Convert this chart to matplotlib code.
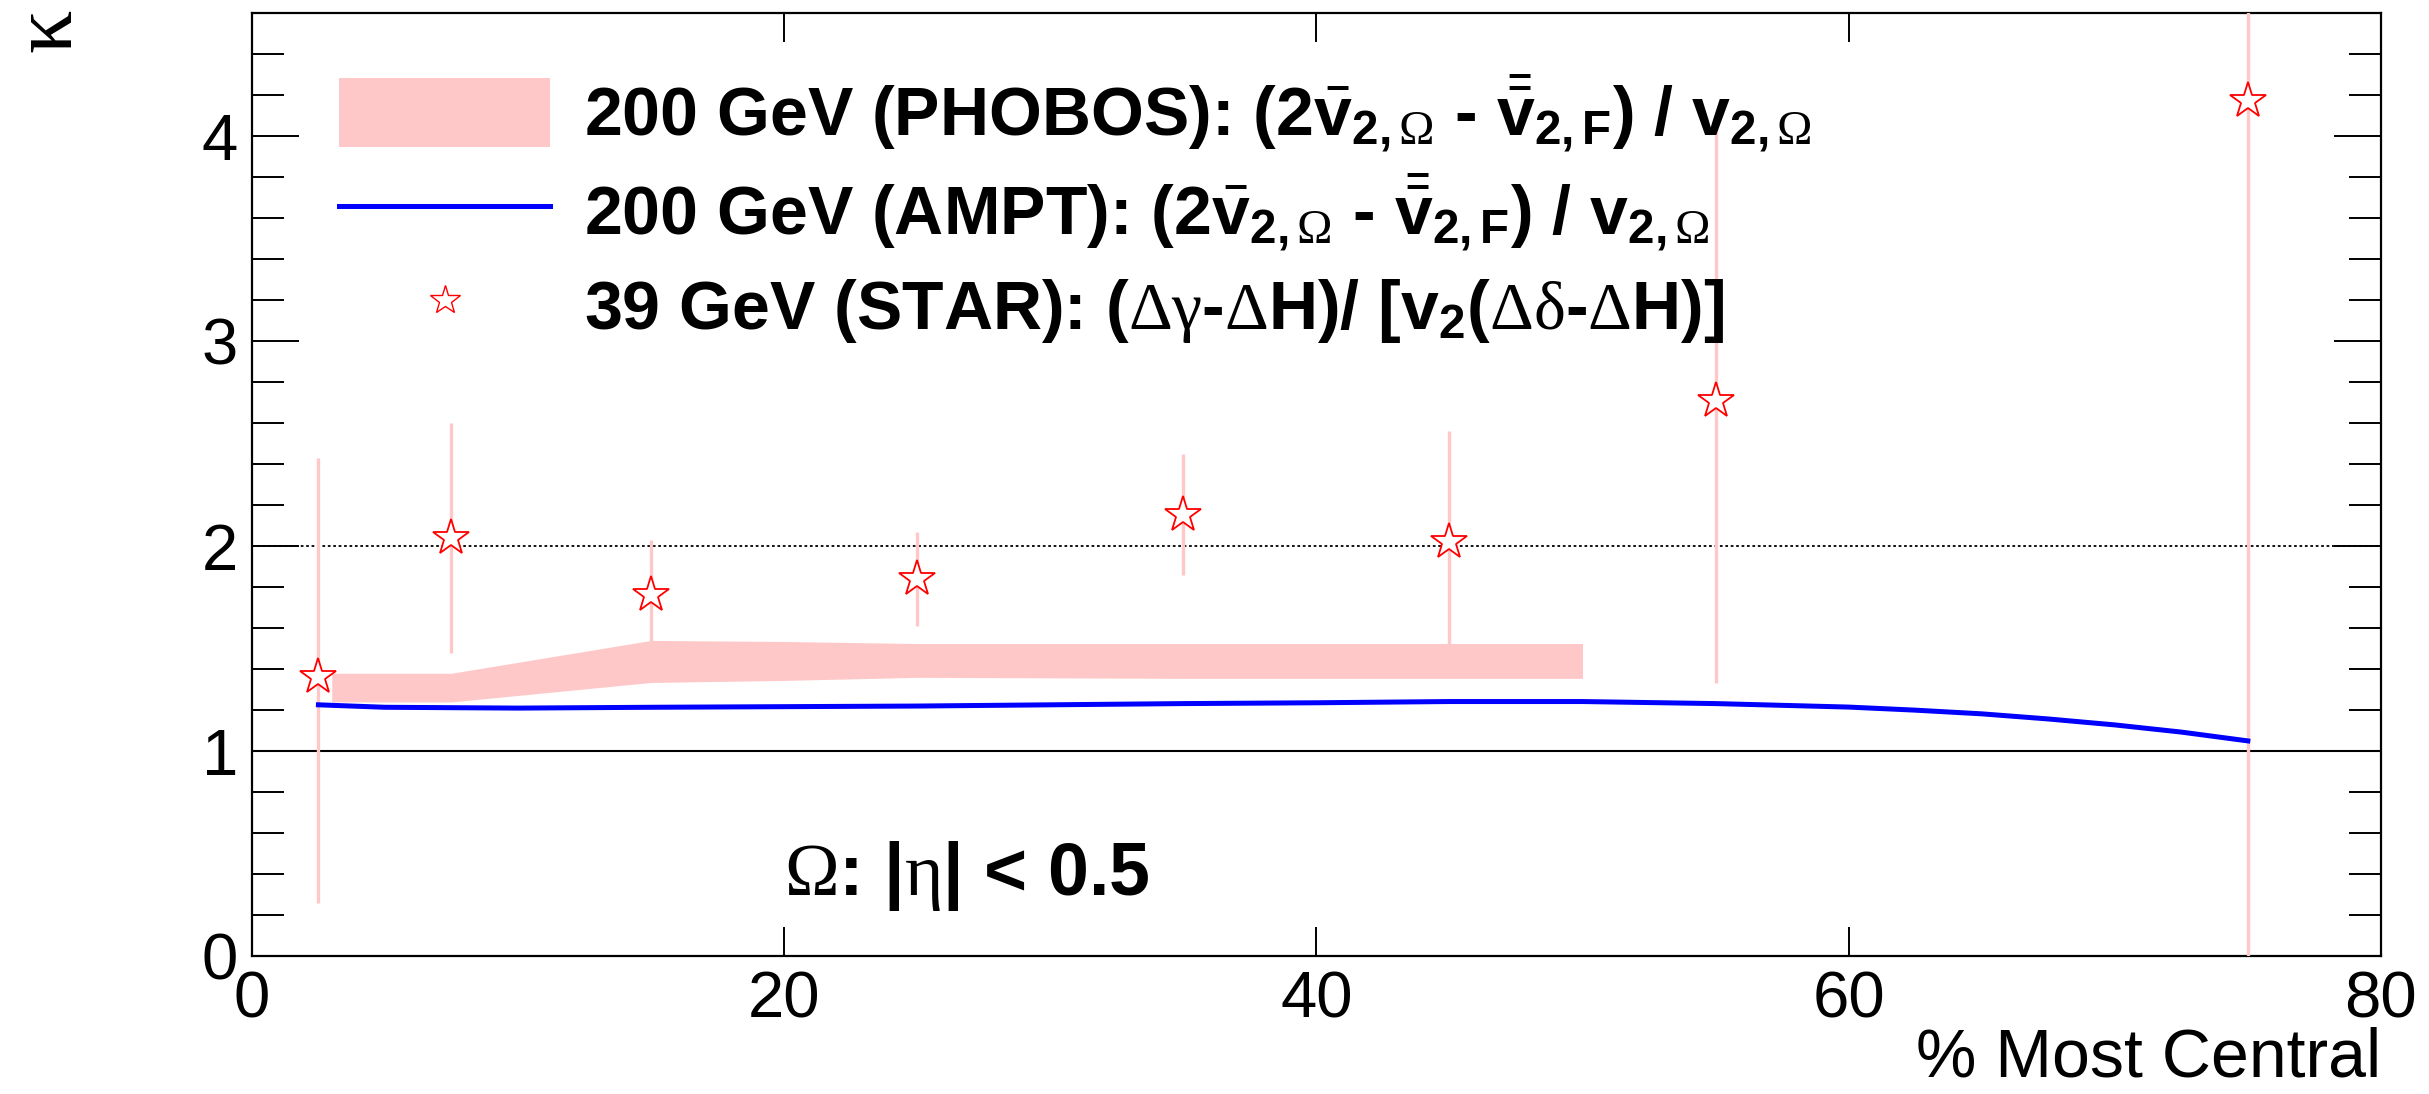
import numpy as np
import matplotlib
matplotlib.use("Agg")
import matplotlib.pyplot as plt
from matplotlib.patches import Patch
from matplotlib.lines import Line2D

plt.rcParams['font.family'] = ['Liberation Sans', 'DejaVu Sans']
plt.rcParams['mathtext.fontset'] = 'custom'
plt.rcParams['mathtext.rm'] = 'Liberation Serif'
plt.rcParams['mathtext.it'] = 'Liberation Serif'
plt.rcParams['mathtext.bf'] = 'Liberation Sans:bold'
plt.rcParams['mathtext.default'] = 'rm'

# 39 GeV STAR points (kappa vs centrality) with error bar ends
star_cent = [2.5, 7.5, 15, 25, 35, 45, 55, 75]
star_kappa = [1.36, 2.04, 1.76, 1.84, 2.15, 2.02, 2.71, 4.17]
star_low = [0.26, 1.48, 1.50, 1.61, 1.86, 1.50, 1.33, -1.0]
star_high = [2.43, 2.60, 2.03, 2.07, 2.45, 2.56, 4.09, 6.0]

# 200 GeV PHOBOS band
phobos_cent = [3, 7.5, 15, 20, 25, 35, 50]
phobos_low = [1.24, 1.24, 1.335, 1.345, 1.36, 1.355, 1.355]
phobos_high = [1.38, 1.38, 1.54, 1.535, 1.525, 1.525, 1.525]

# 200 GeV AMPT curve
ampt_cent = [2.5, 5, 10, 15, 20, 25, 30, 35, 40, 45, 50, 55, 60,
             62.5, 65, 67.5, 70, 72.5, 75]
ampt_kappa = [1.226, 1.214, 1.21, 1.214, 1.217, 1.22, 1.226, 1.232, 1.236,
              1.242, 1.242, 1.232, 1.215, 1.2, 1.182, 1.157, 1.128, 1.093, 1.05]

pink = '#ffc8c8'

fig = plt.figure(figsize=(24.29, 10.94), dpi=100)
ax = fig.add_axes([0.1037, 0.126, 0.8765, 0.862])

ax.axhline(1, color='black', lw=1.5, zorder=2)
ax.axhline(2, color='black', lw=1.3, ls=(0, (1.5, 1.5)), zorder=2)

k = np.array(star_kappa)
yerr = [k - np.array(star_low), np.array(star_high) - k]
ax.errorbar(star_cent, star_kappa, yerr=yerr, fmt='none', ecolor=pink,
            elinewidth=2.4, capsize=0, zorder=3)

ax.fill_between(phobos_cent, phobos_low, phobos_high, color=pink, lw=0,
                zorder=4)

ax.plot(ampt_cent, ampt_kappa, color='#0000ff', lw=3.6, zorder=5)

ax.plot(star_cent, star_kappa, ls='none', marker='*', ms=27,
        mfc='white', mec='red', mew=1.3, zorder=6)

ax.set_xlim(0, 80)
ax.set_ylim(0, 4.6)
ax.set_xticks([0, 20, 40, 60, 80])
ax.set_yticks([0, 1, 2, 3, 4])
ax.set_yticks(np.arange(0, 4.61, 0.2), minor=True)
ax.tick_params(axis='both', which='both', direction='in', top=True,
               right=True, width=1.4, labelsize=47, colors='black')
ax.tick_params(axis='y', which='major', length=34, pad=10)
ax.tick_params(axis='y', which='minor', length=23)
ax.tick_params(axis='x', which='major', length=21, pad=10)
ax.tick_params(axis='x', which='minor', length=0)
for s in ax.spines.values():
    s.set_linewidth(1.6)

ax.text(80, -0.585, '% Most Central', ha='right', va='baseline',
        fontsize=49)
fig.text(0.004, 0.992, 'κ', rotation=90, ha='left', va='top',
         fontsize=62, family='Liberation Serif')

ax.text(20, 0.30, r'$\Omega$: |$\eta$| < 0.5', ha='left', va='baseline',
        fontsize=53, fontweight='bold')

lab1 = ('200 GeV (PHOBOS): (2' + r'$\bar{\mathbf{v}}_{\mathbf{2,}\Omega}$'
        + ' - ' + r'$\bar{\bar{\mathbf{v}}}_{\mathbf{2,F}}$' + ') / '
        + r'$\mathbf{v}_{\mathbf{2,}\Omega}$')
lab2 = ('200 GeV (AMPT): (2' + r'$\bar{\mathbf{v}}_{\mathbf{2,}\Omega}$'
        + ' - ' + r'$\bar{\bar{\mathbf{v}}}_{\mathbf{2,F}}$' + ') / '
        + r'$\mathbf{v}_{\mathbf{2,}\Omega}$')
lab3 = ('39 GeV (STAR): (' + r'$\Delta\gamma$' + '-' + r'$\Delta$'
        + 'H)/ [v' + r'$_{\mathbf{2}}$' + '(' + r'$\Delta\delta$' + '-'
        + r'$\Delta$' + 'H)]')
handles = [Patch(facecolor=pink, edgecolor='none'),
           Line2D([], [], color='#0000ff', lw=3.6),
           Line2D([], [], ls='none', marker='*', ms=22, mfc='white',
                  mec='red', mew=1.0)]
ax.legend(handles, [lab1, lab2, lab3], loc='upper left',
          bbox_to_anchor=(0.041, 0.937), frameon=False, borderpad=0,
          borderaxespad=0, handlelength=3.1, handleheight=1.2,
          handletextpad=0.5, labelspacing=0.26,
          prop={'family': 'Liberation Sans', 'weight': 'bold', 'size': 49})

fig.savefig('out.png', dpi=100)
